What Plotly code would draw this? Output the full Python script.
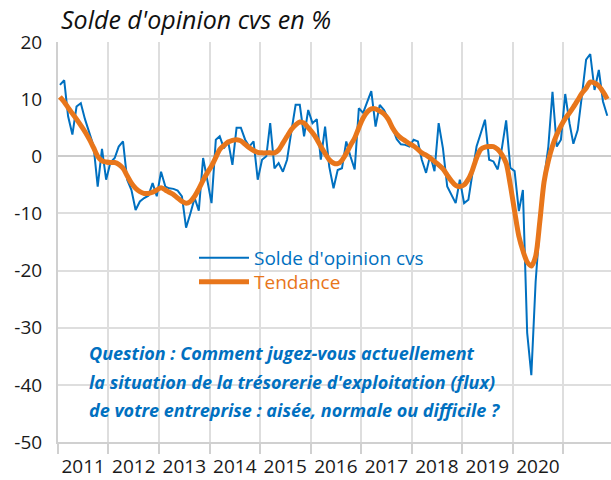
import pandas as pd
import plotly.graph_objects as go

# Monthly data, Jan 2011 -> Nov 2021
solde = [
    12.5, 13.3, 7.0, 3.8, 8.7, 9.3, 6.5, 4.0, 1.8, -5.3, 1.3, -4.1,
    -1.1, -0.3, 1.7, 2.6, -4.1, -5.9, -9.4, -7.9, -7.3, -6.9, -4.7, -7.0,
    -2.7, -5.3, -5.6, -5.7, -6.0, -7.0, -12.5, -10.0, -7.3, -9.5, -0.3, -4.1,
    -8.2, 2.9, 3.5, 1.4, 2.6, -1.5, 5.0, 5.0, 2.9, 1.7, 2.6, -4.1,
    -0.6, 0.0, 5.8, -2.1, -1.2, -2.7, -0.6, 4.3, 9.0, 9.0, 3.5, 8.1,
    5.8, 6.5, -0.6, 5.2, -1.8, -5.6, -2.4, -2.1, 2.6, 0.0, -2.3, 8.4,
    7.6, 9.6, 11.4, 5.2, 9.0, 8.1, 6.6, 5.0, 3.0, 2.1, 2.0, 1.7,
    2.9, 2.6, -0.6, -2.9, 0.2, -2.6, 5.8, 1.4, -5.3, -6.8, -8.2, -4.1,
    -8.2, -7.6, -3.5, 1.7, 4.0, 6.4, -0.6, -0.9, -2.3, 1.4, 6.3, -2.0,
    -2.6, -9.6, -5.9, -30.9, -38.3, -22.0, -12.0, -4.0, 1.7, 11.3, 1.7, 2.9,
    10.9, 5.8, 2.2, 4.6, 10.5, 16.9, 17.9, 11.6, 15.1, 9.6, 7.1,
]
tendance = [
    10.4, 9.5, 8.5, 7.5, 6.5, 5.4, 4.3, 3.0, 1.5, 0.0, -0.8, -1.0,
    -1.1, -1.1, -1.4, -2.1, -3.4, -4.7, -5.6, -6.2, -6.5, -6.5, -6.3, -5.9,
    -5.5, -5.9, -6.3, -6.7, -7.3, -7.9, -8.2, -7.9, -7.0, -5.7, -4.2, -2.9,
    -1.7, -0.2, 1.2, 1.9, 2.5, 2.8, 2.9, 2.7, 2.1, 1.5, 1.0, 0.7,
    0.6, 0.6, 0.6, 0.6, 1.1, 2.3, 3.5, 4.7, 5.5, 6.0, 5.8, 5.0,
    4.1, 3.0, 1.7, 0.5, -0.6, -1.2, -1.3, -0.7, 0.5, 1.9, 3.2, 5.0,
    6.7, 7.8, 8.3, 8.3, 7.9, 7.4, 6.5, 5.0, 3.9, 3.2, 2.7, 2.2,
    1.8, 1.2, 0.6, 0.2, -0.3, -0.9, -1.5, -2.2, -3.3, -4.3, -5.1, -5.3,
    -5.0, -4.0, -2.5, -0.3, 1.2, 1.6, 1.7, 1.7, 1.2, 0.3, -1.2, -5.0,
    -9.6, -14.0, -16.5, -18.5, -19.2, -17.5, -11.5, -4.5, -0.8, 1.8, 3.8, 5.3,
    6.6, 7.6, 8.6, 9.8, 11.0, 11.9, 13.0, 12.8, 12.3, 11.3, 10.0,
]
years = list(range(2011, 2021))          # labelled years
year_bounds = list(range(2011, 2022))    # gridlines / tick marks
y_ticks = [20, 10, 0, -10, -20, -30, -40, -50]
y_labels = ["20", "10", "0", "-10", "-20", "-30", "-40", "-50"]

dates = pd.date_range("2011-01-01", periods=len(solde), freq="MS") + pd.Timedelta(days=14)
label_pos = [f"{y}-07-02" for y in years]
bound_pos = [f"{y}-01-01" for y in year_bounds]

BLUE = "#0070C0"
ORANGE = "#E8761B"
GRID = "#DEDEDE"
AXIS = "#D0D0D0"
FONT = "Open Sans"

# plot area in pixels
L, T, W, H = 58, 42, 553, 400


def px(x):
    return (x - L) / W


def py(y):
    return (T + H - y) / H


fig = go.Figure()
fig.add_trace(go.Scatter(
    x=dates, y=solde, mode="lines",
    name=f"<span style='color:{BLUE}'>Solde d'opinion cvs</span>",
    line=dict(color=BLUE, width=2), legend="legend",
))
fig.add_trace(go.Scatter(
    x=dates, y=tendance, mode="lines",
    name=f"<span style='color:{ORANGE}'>Tendance</span>",
    line=dict(color=ORANGE, width=5, shape="spline", smoothing=0.8),
    legend="legend2",
))

leg_common = dict(xanchor="left", yanchor="middle", bgcolor="rgba(0,0,0,0)",
                  borderwidth=0, itemwidth=50,
                  font=dict(family=FONT, size=19))

fig.update_layout(
    width=611, height=480,
    margin=dict(l=L, r=611 - L - W, t=T, b=480 - T - H, autoexpand=False),
    paper_bgcolor="white", plot_bgcolor="white",
    font=dict(family=FONT, size=19, color="#1a1a1a"),
    title=dict(
        text="<i>Solde d'opinion cvs en %</i>",
        x=61 / 611, xanchor="left", xref="container",
        y=1 - 20 / 480, yanchor="middle", yref="container",
        font=dict(family=FONT, size=25, color="#111111"),
    ),
    showlegend=True,
    legend=dict(x=px(194), y=py(258), **leg_common),
    legend2=dict(x=px(194), y=py(282), **leg_common),
    xaxis=dict(
        range=["2011-01-01", "2021-12-12"], automargin=False,
        tickmode="array", tickvals=label_pos, ticktext=[str(y) for y in years],
        ticks="", ticklen=0, showgrid=False, zeroline=False,
        showline=True, linecolor=AXIS, linewidth=2,
        ticklabelstandoff=6,
        tickfont=dict(family=FONT, size=19, color="#1a1a1a"),
        minor=dict(
            tickmode="array", tickvals=bound_pos,
            showgrid=True, gridcolor=GRID, gridwidth=2,
            ticks="outside", ticklen=10, tickcolor=AXIS, tickwidth=2,
        ),
    ),
    yaxis=dict(
        range=[-50, 20], automargin=False,
        tickmode="array", tickvals=y_ticks, ticktext=y_labels,
        showgrid=True, gridcolor=GRID, gridwidth=2,
        zeroline=True, zerolinecolor="#CCCCCC", zerolinewidth=2,
        showline=True, linecolor=AXIS, linewidth=2,
        ticks="", ticklabelstandoff=10,
        tickfont=dict(family=FONT, size=19, color="#1a1a1a"),
    ),
)

# white panels behind the legend and the survey question
fig.add_shape(type="rect", xref="paper", yref="paper",
              x0=px(190), x1=px(493), y0=py(300), y1=py(240),
              fillcolor="white", line=dict(width=0), layer="between")
fig.add_shape(type="rect", xref="paper", yref="paper",
              x0=px(65), x1=px(490), y0=py(432), y1=py(333),
              fillcolor="white", line=dict(width=0), layer="between")

question = [
    "Question : Comment jugez-vous actuellement",
    "la situation de la trésorerie d'exploitation (flux)",
    "de votre entreprise : aisée, normale ou difficile ?",
]
for k, line in enumerate(question):
    fig.add_annotation(
        text=f"<b><i>{line}</i></b>", xref="paper", yref="paper",
        x=px(87), y=py(353 + 28.6 * k),
        xanchor="left", yanchor="middle", showarrow=False,
        font=dict(family=FONT, size=18, color=BLUE),
    )

fig.write_html(
    "out.html",
    config={"displayModeBar": False},
    post_script="document.body.style.margin='0';document.body.style.overflow='hidden';",
)
